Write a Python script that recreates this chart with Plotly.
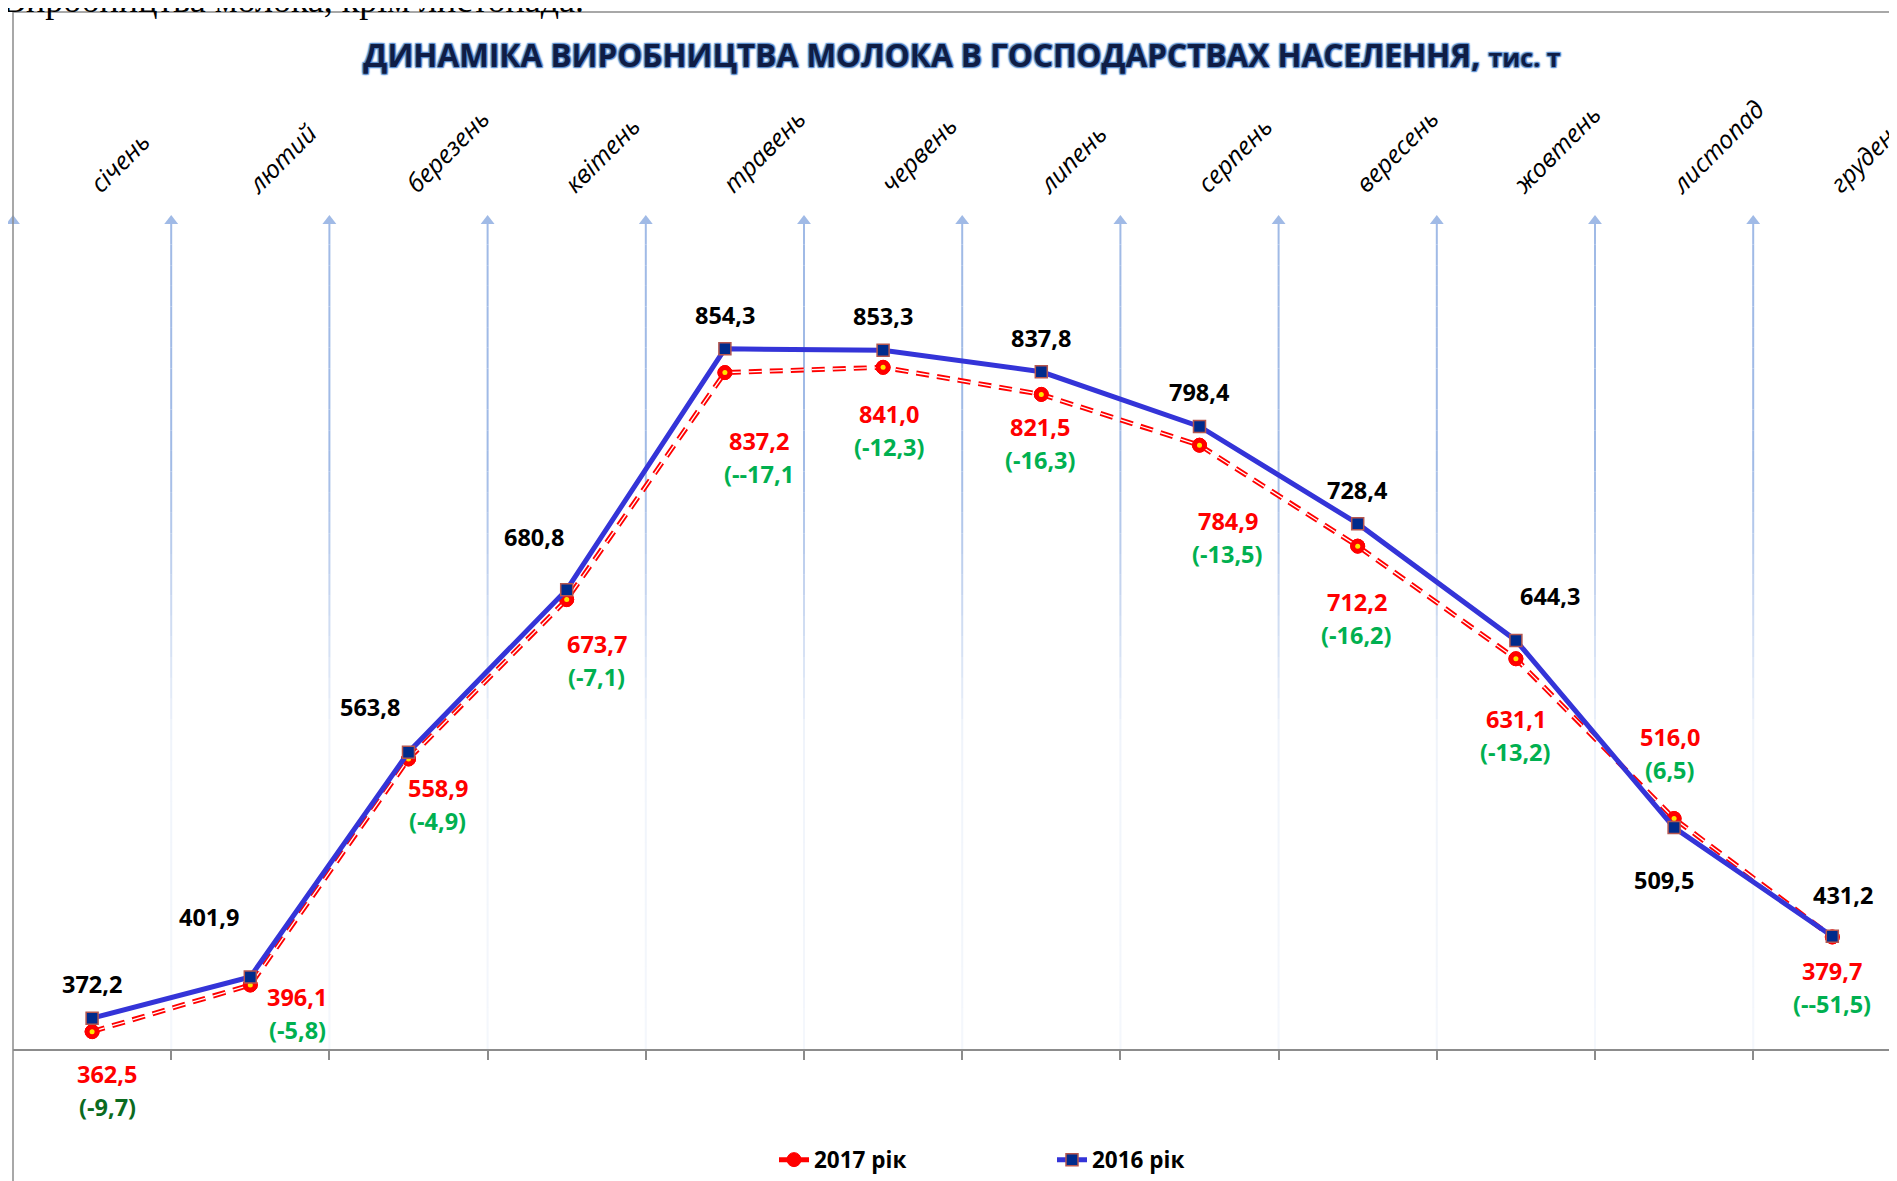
import plotly.graph_objects as go

# months on the top axis
months = ['січень', 'лютий', 'березень', 'квітень', 'травень', 'червень',
          'липень', 'серпень', 'вересень', 'жовтень', 'листопад', 'грудень']

# 2016 series (blue, solid)
values_2016 = [372.2, 401.9, 563.8, 680.8, 854.3, 853.3,
               837.8, 798.4, 728.4, 644.3, 509.5, 431.2]
labels_2016 = ['372,2', '401,9', '563,8', '680,8', '854,3', '853,3',
               '837,8', '798,4', '728,4', '644,3', '509,5', '431,2']

# 2017 series (red, dashed) - December point is drawn where the chart draws it
values_2017 = [362.5, 396.1, 558.9, 673.7, 837.2, 841.0,
               821.5, 784.9, 712.2, 631.1, 516.0, 430.7]
labels_2017 = ['362,5', '396,1', '558,9', '673,7', '837,2', '841,0',
               '821,5', '784,9', '712,2', '631,1', '516,0', '379,7']
labels_diff = ['(-9,7)', '(-5,8)', '(-4,9)', '(-7,1)', '(--17,1', '(-12,3)',
               '(-16,3)', '(-13,5)', '(-16,2)', '(-13,2)', '(6,5)', '(--51,5)']

# label offsets in px (dx, dy), dy up
off_2016 = [(0, 34), (-41, 60), (-39, 45), (-33, 53), (0, 34), (0, 34),
            (0, 34), (0, 34), (0, 34), (34, 44), (-10, -52), (11, 41)]
off_2017 = [(15, -42), (47, -12), (29, -29), (30, -44), (34, -68), (6, -47),
            (-1, -33), (28, -76), (-1, -56), (0, -60), (-4, 82), (0, -34)]
diff_colors = ['#0b6b1f'] + ['#00b050'] * 11

Y_MIN, Y_MAX = 350, 950
W, H = 1897, 1181
PAGE = 8  # browser body margin
M_L, M_R, M_T = 5, 0, 208
cat_px = 158.2
plot_h = 833
M_B = H - M_T - plot_h
plot_w = W - M_L - M_R
x_max = -0.5 + plot_w / cat_px
px_per_unit = plot_h / (Y_MAX - Y_MIN)

xs = list(range(len(months)))
font_main = 'Open Sans'
grid_col = 'rgb(160,186,230)'
lbl_size = 23.5
dash_2017 = '13px,8px'

fig = go.Figure()

# 2017 line with legend entry
fig.add_trace(go.Scatter(
    x=xs, y=values_2017, name='2017 рік', mode='lines+markers',
    line=dict(color='#ff0000', width=5, dash=dash_2017),
    marker=dict(symbol='circle', size=14, color='#ff0000',
                line=dict(color='#ff0000', width=1)),
    cliponaxis=False
))
# white stripe inside the dashes
fig.add_trace(go.Scatter(
    x=xs, y=values_2017, mode='lines', showlegend=False, hoverinfo='skip',
    line=dict(color='white', width=1.3, dash=dash_2017)
))
# markers again on top + yellow centres
fig.add_trace(go.Scatter(
    x=xs, y=values_2017, mode='markers', showlegend=False, hoverinfo='skip',
    marker=dict(symbol='circle', size=14, color='#ff0000',
                line=dict(color='#ff0000', width=1)),
    cliponaxis=False
))
fig.add_trace(go.Scatter(
    x=xs, y=values_2017, mode='markers', showlegend=False, hoverinfo='skip',
    marker=dict(symbol='circle', size=5, color='#ffe600'),
    cliponaxis=False
))
# 2016 line
fig.add_trace(go.Scatter(
    x=xs, y=values_2016, name='2016 рік', mode='lines+markers',
    line=dict(color='#3434d8', width=5),
    marker=dict(symbol='square', size=12, color='#002b8c',
                line=dict(color='#b5564f', width=1.5)),
    cliponaxis=False
))

# vertical gridlines fading downwards, with arrow heads
bounds = [b - 0.5 for b in range(len(months))]
shapes = []
n_seg = 40
y_top_line = Y_MAX - 8 / px_per_unit
for b in bounds[1:]:
    for k in range(n_seg):
        t0 = k / n_seg
        t1 = (k + 1) / n_seg
        tm = (t0 + t1) / 2
        if tm < 0.28:
            op = 1.0
        elif tm < 0.62:
            op = 1.0 - (tm - 0.28) / 0.34 * 0.85
        else:
            op = 0.15 - (tm - 0.62) * 0.12
        shapes.append(dict(
            type='line', xref='x', yref='y', layer='below',
            x0=b, x1=b,
            y0=y_top_line - t0 * (y_top_line - Y_MIN),
            y1=y_top_line - t1 * (y_top_line - Y_MIN),
            line=dict(color=grid_col, width=2), opacity=max(op, 0.08)
        ))

fig.add_trace(go.Scatter(
    x=bounds, y=[Y_MAX - 5 / px_per_unit] * len(bounds), mode='markers',
    showlegend=False, hoverinfo='skip', cliponaxis=False,
    marker=dict(symbol='triangle-up', size=12, color=grid_col)
))

# chart frame (top edge at page y = 12)
shapes.append(dict(type='rect', xref='paper', yref='paper',
                   x0=0, x1=1.2, y0=-0.3, y1=1 + (M_T - (12 - PAGE)) / plot_h,
                   line=dict(color='#8c8c8c', width=1.5), layer='above'))

annotations = []
for i in xs:
    dx, dy = off_2016[i]
    annotations.append(dict(
        x=i, y=values_2016[i], xref='x', yref='y', text=labels_2016[i],
        showarrow=False, xshift=dx, yshift=dy,
        font=dict(family=font_main, size=lbl_size, color='black', weight='bold')
    ))
    dx, dy = off_2017[i]
    annotations.append(dict(
        x=i, y=values_2017[i], xref='x', yref='y', text=labels_2017[i],
        showarrow=False, xshift=dx, yshift=dy,
        font=dict(family=font_main, size=lbl_size, color='#ff0000', weight='bold')
    ))
    annotations.append(dict(
        x=i, y=values_2017[i], xref='x', yref='y', text=labels_diff[i],
        showarrow=False, xshift=dx, yshift=dy - 33,
        font=dict(family=font_main, size=lbl_size, color=diff_colors[i], weight='bold')
    ))

# cropped line of document text above the chart
annotations.append(dict(
    x=(-PAGE - M_L) / plot_w, y=1 + (M_T - 14) / plot_h, xref='paper', yref='paper',
    xanchor='left', yanchor='bottom', showarrow=False,
    text='Виробництва молока, крім листопада.',
    font=dict(family='Liberation Serif', size=36, color='black')
))

title_shadow = ('1px 1px 1px #5b8fd0, -1px -1px 1px #5b8fd0, '
                '1px -1px 1px #5b8fd0, -1px 1px 1px #5b8fd0, 0 0 3px #6a9ad8')

fig.update_layout(
    width=W, height=H,
    margin=dict(l=M_L, r=M_R, t=M_T, b=M_B),
    paper_bgcolor='white', plot_bgcolor='white',
    title=dict(
        text='ДИНАМІКА ВИРОБНИЦТВА МОЛОКА В ГОСПОДАРСТВАХ НАСЕЛЕННЯ, '
             '<span style="font-size:25px">тис. т</span>',
        x=(962 - PAGE) / W, xanchor='center', y=1 - (56 - PAGE) / H, yanchor='middle',
        font=dict(family=font_main, size=31.5, color='#0f1d45', weight='bold',
                  shadow=title_shadow)
    ),
    xaxis=dict(
        range=[-0.5, x_max], showgrid=False, zeroline=False,
        showline=True, linecolor='#8c8c8c', linewidth=1.5,
        tickmode='array', tickvals=bounds[1:] + [11.5], ticktext=[''] * 12,
        ticks='outside', ticklen=9, tickcolor='#8c8c8c', tickwidth=1.5,
        automargin=False
    ),
    xaxis2=dict(
        overlaying='x', side='top', matches='x', range=[-0.5, x_max],
        showgrid=False, zeroline=False, showline=False,
        tickmode='array', tickvals=xs, ticktext=months, tickangle=-45,
        ticks='', ticklabelstandoff=12, ticklabeloverflow='allow',
        tickfont=dict(family=font_main, size=25, color='black', style='italic'),
        automargin=False
    ),
    yaxis=dict(
        range=[Y_MIN, Y_MAX], showgrid=False, zeroline=False,
        showticklabels=False, showline=False, automargin=False
    ),
    legend=dict(
        orientation='h', x=(774 - PAGE - M_L) / plot_w, xanchor='left',
        y=-(1160 - PAGE - (M_T + plot_h)) / plot_h, yanchor='middle',
        font=dict(family=font_main, size=22.5, color='black', weight='bold'),
        entrywidth=233, entrywidthmode='pixels', bgcolor='rgba(0,0,0,0)'
    ),
    shapes=shapes,
    annotations=annotations,
    showlegend=True,
)

# invisible trace to bring up the top axis
fig.add_trace(go.Scatter(x=xs, y=[None] * len(xs), xaxis='x2', showlegend=False,
                         hoverinfo='skip'))

fig.write_html('out.html')
